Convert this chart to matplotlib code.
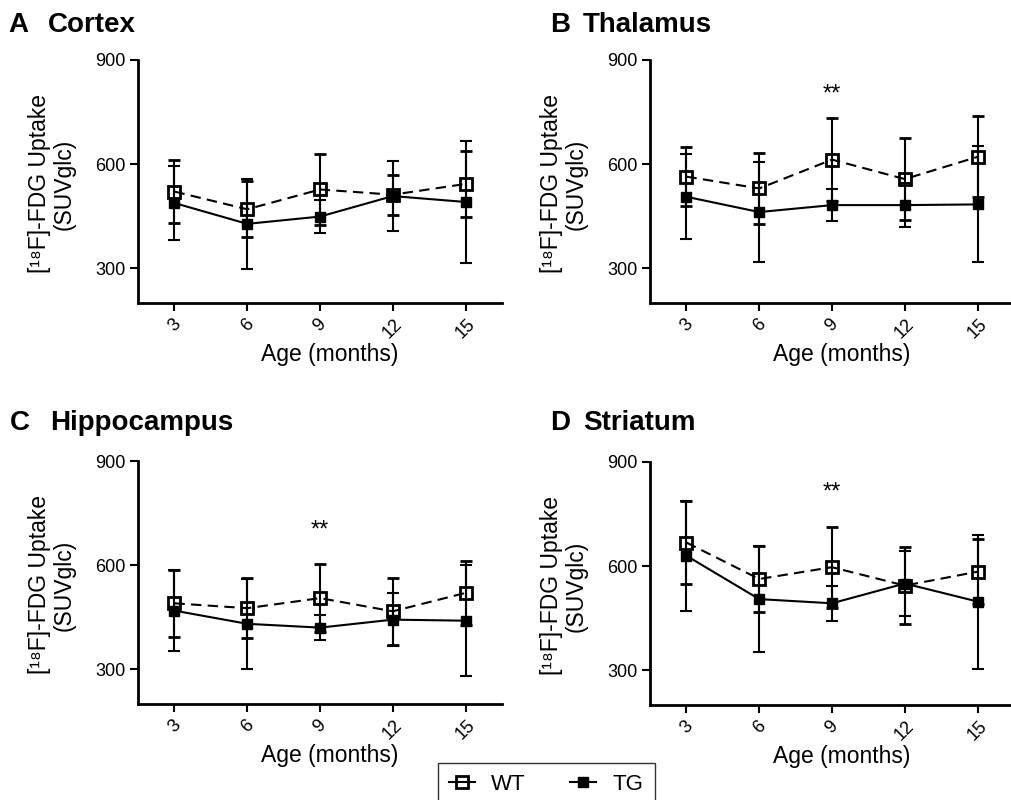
import numpy as np
import matplotlib.pyplot as plt
from matplotlib.lines import Line2D

# ======================================================
# 1. Data (mean +/- SD)
# ======================================================
ages = [3, 6, 9, 12, 15]

cortex_wt = [521, 470, 527, 512, 543]
cortex_wt_sd = [91, 81, 101, 58, 95]
cortex_tg = [488, 428, 449, 508, 491]
cortex_tg_sd = [106, 130, 48, 100, 175]

thalamus_wt = [564, 530, 613, 557, 621]
thalamus_wt_sd = [86, 101, 119, 117, 117]
thalamus_tg = [506, 462, 482, 482, 484]
thalamus_tg_sd = [122, 145, 46, 64, 167]

hippo_wt = [490, 476, 505, 467, 520]
hippo_wt_sd = [97, 86, 98, 97, 93]
hippo_tg = [469, 431, 420, 443, 440]
hippo_tg_sd = [117, 130, 37, 77, 160]

striatum_wt = [668, 563, 597, 544, 584]
striatum_wt_sd = [119, 95, 117, 111, 93]
striatum_tg = [630, 505, 493, 550, 498]
striatum_tg_sd = [158, 153, 51, 93, 193]

panel_letters = ['A', 'B', 'C', 'D']
panel_names = ['Cortex', 'Thalamus', 'Hippocampus', 'Striatum']
# significance marks: (age, height) or None
signif = [None, (9, 800), (9, 701), (9, 813)]

# ======================================================
# 2. Style
# ======================================================
plt.rcParams['font.family'] = ['Liberation Sans', 'DejaVu Sans']

fig = plt.figure(figsize=(10.11, 8), dpi=100)
W, H = 1011.0, 800.0

# axes boxes in pixels: left, top(900), width, height
boxes = [(138, 60, 364, 243), (650, 60, 364, 243),
         (138, 461, 364, 243), (650, 462, 364, 243)]
title_pos = [(8, 48, 32), (550, 583, 32), (10, 50, 430), (550, 583, 430)]

data = [(cortex_wt, cortex_wt_sd, cortex_tg, cortex_tg_sd),
        (thalamus_wt, thalamus_wt_sd, thalamus_tg, thalamus_tg_sd),
        (hippo_wt, hippo_wt_sd, hippo_tg, hippo_tg_sd),
        (striatum_wt, striatum_wt_sd, striatum_tg, striatum_tg_sd)]

# ======================================================
# 3. Panels
# ======================================================
for i in range(4):
    l, t, w, h = boxes[i]
    ax = fig.add_axes([l / W, 1 - (t + h) / H, w / W, h / H])
    wt, wt_sd, tg, tg_sd = data[i]

    ax.errorbar(ages, tg, yerr=tg_sd, fmt='s', ls='-', color='k', ms=7,
                lw=1.5, elinewidth=1.5, capsize=4.5, capthick=1.5, zorder=3)
    ax.errorbar(ages, wt, yerr=wt_sd, fmt='s', ls=(0, (5, 3)), color='k',
                mfc='none', ms=8, mew=2, lw=1.5, elinewidth=1.5,
                capsize=4.5, capthick=1.5, zorder=4)

    if signif[i] is not None:
        ax.text(signif[i][0], signif[i][1], '**', ha='center', va='center',
                fontsize=17)

    ax.set_xlim(1.5, 16.5)
    ax.set_ylim(200, 900)
    ax.set_xticks(ages)
    ax.set_xticklabels([str(a) for a in ages], rotation=45, ha='center')
    ax.set_yticks([300, 600, 900])
    ax.tick_params(axis='both', labelsize=13, width=1.5, length=6, pad=3)

    for s in ['top', 'right']:
        ax.spines[s].set_visible(False)
    for s in ['left', 'bottom']:
        ax.spines[s].set_linewidth(2)

    ax.set_xlabel('Age (months)', fontsize=16.5)
    ax.xaxis.set_label_coords(0.527, -0.165)
    ax.set_ylabel('[\u00b9\u2078F]-FDG Uptake\n(SUVglc)', fontsize=16.5,
                  linespacing=1.1)
    ax.yaxis.set_label_coords(-0.172, 0.49)

    # panel titles
    lx, nx, by = title_pos[i]
    fig.text(lx / W, 1 - by / H, panel_letters[i], fontsize=20,
             fontweight='bold', va='baseline')
    fig.text(nx / W, 1 - by / H, panel_names[i], fontsize=20,
             fontweight='bold', va='baseline')

# ======================================================
# 4. Legend
# ======================================================
handles = [Line2D([], [], color='k', marker='s', mfc='none', ms=8, mew=2,
                  lw=1.5),
           Line2D([], [], color='k', marker='s', ms=7, lw=1.5)]
fig.legend(handles, ['WT', 'TG'], loc='upper left', ncol=2,
           bbox_to_anchor=(438 / W, 1 - 763 / H), borderaxespad=0,
           fontsize=16, frameon=True, fancybox=False, edgecolor='k',
           handlelength=1.15, columnspacing=2.0, borderpad=0.5,
           handletextpad=0.75)

plt.savefig('out.png', dpi=100)
